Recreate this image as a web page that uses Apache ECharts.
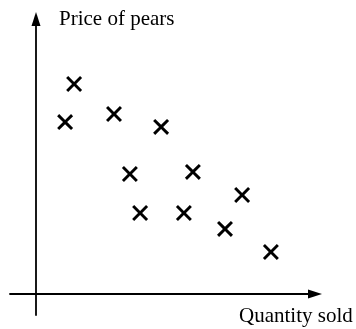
<!DOCTYPE html>
<html>
<head>
<meta charset="utf-8">
<script src="https://cdn.jsdelivr.net/npm/echarts@6/dist/echarts.min.js"></script>
<style>
  html, body { margin: 0; padding: 0; background: #fff; }
  #chart { width: 356px; height: 329px; }
</style>
</head>
<body>
<div id="chart"></div>
<script>
// Quantity sold (x) and price (y) for each observation, arbitrary units
const quantity = [1.27, 0.97, 2.60, 4.17, 3.13, 5.23, 6.87, 3.47, 4.93, 6.30, 7.83];
const price    = [7.00, 5.73, 6.00, 5.57, 4.00, 4.07, 3.30, 2.70, 2.70, 2.17, 1.40];

const xAxisTitle = 'Quantity sold';
const yAxisTitle = 'Price of pears';

const points = quantity.map((q, i) => [q, price[i]]);

// A filled "×" glyph used as the scatter marker
const crossPath = 'path://M13,0L50,37L87,0L100,13L63,50L100,87L87,100L50,63L13,100L0,87L37,50L0,13Z';

const chart = echarts.init(document.getElementById('chart'), null, { renderer: 'canvas' });

const axisCommon = {
  type: 'value',
  axisTick: { show: false },
  axisLabel: { show: false },
  splitLine: { show: false },
  axisLine: {
    show: true,
    onZero: true,
    symbol: ['none', 'triangle'],
    symbolSize: [9, 14],
    lineStyle: { color: '#000', width: 1.8 }
  }
};

chart.setOption({
  animation: false,
  backgroundColor: '#fff',
  grid: { left: 10, right: 41, top: 19, bottom: 14, containLabel: false },
  xAxis: Object.assign({}, axisCommon, { min: -0.8667, max: 9.3 }),
  yAxis: Object.assign({}, axisCommon, { min: -0.7, max: 9.1667 }),
  series: [{
    type: 'scatter',
    data: points,
    symbol: crossPath,
    symbolSize: 16,
    itemStyle: { color: '#000', opacity: 1 },
    emphasis: { disabled: true }
  }],
  graphic: [
    {
      type: 'text', left: 59, top: 8.5,
      style: { text: yAxisTitle, font: '21px "Liberation Serif", "Times New Roman", serif', fill: '#000' }
    },
    {
      type: 'text', left: 239, top: 305.5,
      style: { text: xAxisTitle, font: '21px "Liberation Serif", "Times New Roman", serif', fill: '#000' }
    }
  ]
});
</script>
</body>
</html>
